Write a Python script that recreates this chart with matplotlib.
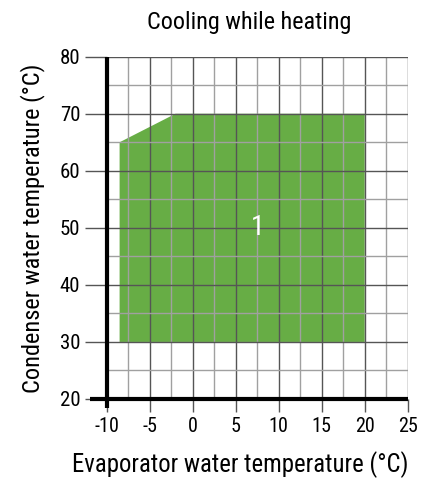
import matplotlib
matplotlib.use("Agg")
import matplotlib.pyplot as plt
import numpy as np

fam = ['Roboto Condensed', 'Liberation Sans', 'DejaVu Sans']
plt.rcParams['font.family'] = fam
plt.rcParams['font.weight'] = 'normal'
plt.rcParams['axes.unicode_minus'] = False

# Data
region_x = [-8.5, -8.5, -2, 20, 20]
region_y = [30, 65, 70, 70, 30]
region_label = "1"
label_pos = (7.5, 50)
x_ticks = [-10, -5, 0, 5, 10, 15, 20, 25]
y_ticks = [20, 30, 40, 50, 60, 70, 80]
title = "Cooling while heating"
xlabel = "Evaporator water temperature (°C)"
ylabel = "Condenser water temperature (°C)"

fig = plt.figure(figsize=(4.35, 4.79), dpi=100)
ax = fig.add_axes([106.7/435, 1-399/479, 301/435, 342.3/479])
ax.set_xlim(-10, 25)
ax.set_ylim(20, 80)

green = '#67ad45'
ax.fill(region_x, region_y, color=green, lw=0, zorder=1)

for xv in np.arange(-7.5, 25.01, 2.5):
    major = abs(xv % 5) < 1e-9
    ax.axvline(xv, color='#555555' if major else '#a0a0a0', lw=1.0, zorder=2)
for yv in np.arange(25, 80.01, 5):
    major = abs(yv % 10) < 1e-9
    ax.axhline(yv, color='#555555' if major else '#a0a0a0', lw=1.0, zorder=2)

ax.text(label_pos[0], label_pos[1], region_label, color='white', fontsize=20,
        ha='center', va='center', zorder=3)

for s in ax.spines.values():
    s.set_visible(False)

ax.plot([-10, -10], [80, 18.4], color='black', lw=3, clip_on=False, zorder=4,
        solid_capstyle='butt')
ax.plot([-11.9, 25], [20, 20], color='black', lw=3, clip_on=False, zorder=4,
        solid_capstyle='butt')

ax.set_xticks(x_ticks)
ax.set_yticks(y_ticks)
ax.tick_params(axis='x', direction='out', length=9, width=1, color='#555555',
               labelsize=14.5, pad=4)
ax.tick_params(axis='y', direction='out', length=16, width=1, color='#555555',
               labelsize=15, pad=3)

fig.text(249.5/435, 1-22/479, title, ha='center', va='center', fontsize=17.4)
fig.text(240/435, 1-465/479, xlabel, ha='center', va='center', fontsize=17.8)
fig.text(33/435, 1-228/479, ylabel, ha='center', va='center', fontsize=17.6,
         rotation=90)

fig.savefig('out.png', dpi=100)
